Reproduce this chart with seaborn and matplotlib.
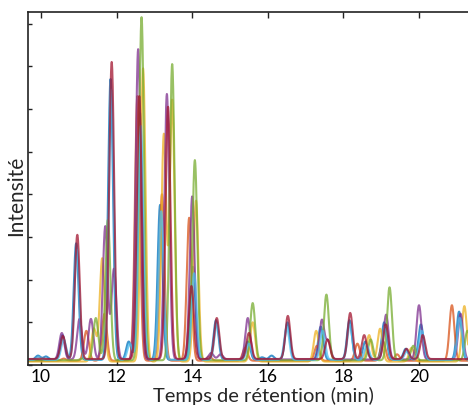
import numpy as np
import pandas as pd
import matplotlib
matplotlib.use("Agg")
import matplotlib.pyplot as plt
import seaborn as sns

# Retention-time grid (min)
rt_min, rt_max = 9.5, 21.5

# Peak tables per injection: (retention time in min, apex intensity)
peaks_blue = [(9.92, 0.22), (10.13, 0.2), (10.57, 0.7), (10.93, 2.85), (11.84, 6.7),
              (12.32, 0.55), (12.62, 5.9), (13.15, 3.75), (14.02, 2.3), (14.63, 1.05),
              (15.47, 0.55), (15.85, 0.18), (16.1, 0.22), (16.52, 1.0), (17.4, 0.9),
              (18.16, 1.05), (18.58, 0.55), (19.08, 1.0), (19.65, 0.38), (20.05, 0.95),
              (21.06, 1.25)]
peaks_orange = [(10.6, 0.15), (11.2, 0.8), (11.68, 1.2), (12.55, 6.3), (13.2, 4.0),
                (13.92, 3.45), (14.45, 0.2), (15.4, 0.4), (17.3, 0.45), (18.37, 0.5),
                (19.05, 0.55), (19.42, 0.25), (20.87, 1.4)]
peaks_yellow = [(11.4, 0.85), (11.62, 2.5), (12.7, 6.95), (13.25, 5.4), (13.47, 6.2),
                (14.1, 3.85), (15.6, 1.0), (17.28, 0.8), (18.68, 0.7), (18.97, 0.85),
                (19.8, 0.4), (21.2, 1.38)]
peaks_purple = [(9.95, 0.12), (10.55, 0.75), (11.02, 1.08), (11.32, 1.08), (11.7, 3.25),
                (11.93, 2.25), (12.57, 7.4), (13.33, 6.35), (14.0, 3.95), (14.5, 0.28),
                (14.75, 0.25), (15.47, 1.1), (17.43, 1.05), (17.6, 0.55), (19.13, 1.18),
                (20.0, 1.4), (21.1, 1.2)]
peaks_green = [(11.1, 0.15), (11.45, 1.1), (11.77, 3.4), (12.66, 8.15), (13.47, 7.05),
               (14.07, 4.8), (15.6, 1.45), (17.55, 1.65), (18.72, 0.6), (19.22, 1.82),
               (19.85, 0.45), (21.28, 0.8)]
peaks_lightblue = [(9.95, 0.18), (10.6, 0.6), (10.95, 2.7), (11.86, 6.45), (12.35, 0.5),
                   (12.64, 5.6), (13.18, 3.6), (14.05, 2.15), (14.65, 0.95), (15.5, 0.5),
                   (16.5, 0.9), (17.45, 0.8), (18.17, 0.95), (18.62, 0.45), (19.1, 0.9),
                   (19.68, 0.32), (20.07, 0.8), (21.08, 1.1)]
peaks_red = [(9.97, 0.15), (10.58, 0.68), (10.96, 3.05), (11.87, 7.1), (12.6, 6.3),
             (13.36, 6.05), (13.98, 1.85), (14.65, 1.1), (15.5, 0.75), (16.53, 1.15),
             (17.58, 0.6), (18.18, 1.22), (18.55, 0.7), (19.12, 0.95), (19.67, 0.38),
             (20.1, 0.7)]

series_names = ["A", "B", "C", "D", "E", "F", "G"]
series_peaks = [peaks_blue, peaks_orange, peaks_yellow, peaks_purple,
                peaks_green, peaks_lightblue, peaks_red]
baselines = [0.12, 0.1, 0.08, 0.13, 0.11, 0.12, 0.14]
palette = ["#0072BD", "#D95319", "#EDB120", "#7E2F8E", "#77AC30", "#4DBEEE", "#A2142F"]

peak_sigma = 0.065  # chromatographic peak width (min)

t = np.linspace(rt_min, rt_max, 3000)
frames = []
for name, pk, base in zip(series_names, series_peaks, baselines):
    signal = np.full_like(t, base)
    for rt, h in pk:
        signal += (h - base) * np.exp(-0.5 * ((t - rt) / peak_sigma) ** 2)
    frames.append(pd.DataFrame({"temps": t, "intensite": signal, "echantillon": name}))
df = pd.concat(frames, ignore_index=True)

sns.set_theme(style="white")
plt.rcParams["font.family"] = ["Lato", "DejaVu Sans"]

fig = plt.figure(figsize=(4.68, 4.07), dpi=100)
ax = fig.add_axes([28 / 468, 42 / 407, 1 - 28 / 468, 353 / 407])

sns.lineplot(data=df, x="temps", y="intensite", hue="echantillon",
             palette=palette, linewidth=1.5, alpha=0.75, legend=False, ax=ax,
             estimator=None, sort=False)

ax.set_xlim(9.656, 21.296)
ax.set_ylim(0, 8.27)
ax.set_xticks([10, 12, 14, 16, 18, 20])
ax.set_yticks(np.arange(0, 9, 1))
ax.set_yticklabels([])
ax.tick_params(axis="x", direction="in", length=4, width=1, top=True, bottom=True,
               labelsize=12.5, pad=3, colors="#222222", labelcolor="black")
ax.tick_params(axis="y", direction="in", length=3, width=1, left=True,
               colors="#222222")
for side in ["left", "top", "bottom"]:
    ax.spines[side].set_color("#222222")
    ax.spines[side].set_linewidth(1.2)
ax.spines["right"].set_visible(False)

ax.set_xlabel("Temps de rétention (min)", fontsize=14.5)
ax.xaxis.set_label_coords(0.534, -0.088)
ax.xaxis.label.set_va("center")
ax.set_ylabel("Intensité", fontsize=15)
ax.yaxis.set_label_coords(-0.026, 0.479)
ax.yaxis.label.set_va("center")

fig.savefig("out.png", dpi=100)
